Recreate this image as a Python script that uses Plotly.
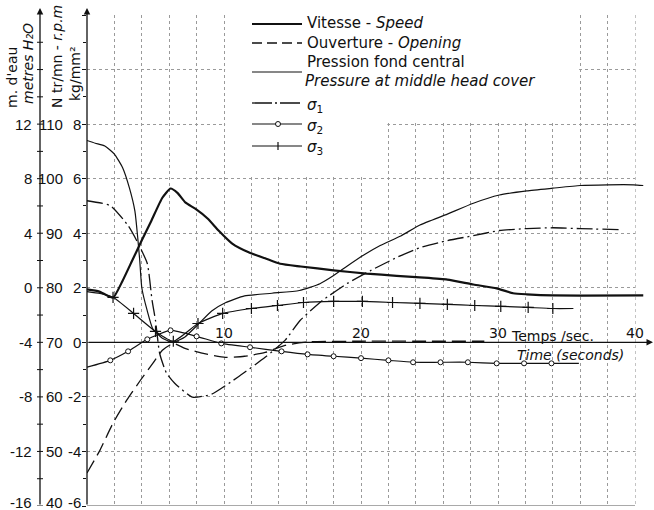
import plotly.graph_objects as go

# ---------------- data ----------------
# Speed  (N, tr/mn - r.p.m)
speed_t = [0, 0.9, 1.9, 2.6, 3.3, 4.0, 4.7, 5.5, 6.1, 6.6, 7.2, 7.9, 8.8, 9.6, 10.6, 11.8, 13.0,
           14.1, 15.6, 18.0, 20.4, 22.6, 24.3, 26.3, 28.2, 29.9, 31.1, 32.1, 34.0, 40.6]
speed_rpm = [79.7, 79.3, 78.2, 81.3, 85.0, 88.7, 92.3, 96.5, 98.2, 97.4, 95.6, 94.5, 92.7, 90.5,
             88.1, 86.5, 85.4, 84.4, 83.9, 83.2, 82.6, 82.2, 81.9, 81.5, 80.6, 79.9, 79.0, 78.8,
             78.6, 78.6]

# Opening (in units of the kg/mm2 grid)
open_t = [0, 0.95, 1.9, 2.9, 3.9, 4.8, 5.5, 6.3, 7.15, 8.4, 10.1, 11.5, 13.0, 14.45, 16.3, 20, 25, 29]
open_v = [-4.79, -3.95, -2.96, -2.12, -1.39, -0.77, -0.29, -0.04, -0.22, -0.40, -0.55, -0.51,
          -0.37, -0.11, 0.02, 0.04, 0.04, 0.04]

# Pressure at middle head cover (m d'eau)
pres_t = [0, 0.6, 1.3, 2.0, 2.6, 3.1, 3.5, 3.7, 3.85, 4.0, 4.4, 4.8, 5.5, 6.3, 7.15, 8.0, 9.1,
          10.1, 11.5, 13.5, 15.5, 17.0, 18.0, 19.0, 20.2, 21.4, 22.9, 24.3, 26.3, 28.2, 30.1,
          32.1, 34.0, 36.0, 38.0, 39.9, 40.6]
pres_m = [10.8, 10.6, 10.4, 9.8, 8.8, 7.3, 5.6, 3.7, 2.0, 0.0, -1.7, -3.0, -3.7, -4.0, -3.6,
          -2.8, -1.7, -1.1, -0.6, -0.4, -0.2, 0.3, 0.9, 1.6, 2.4, 3.1, 3.8, 4.6, 5.4, 6.2, 6.8,
          7.1, 7.3, 7.5, 7.55, 7.55, 7.5]

# Stresses (kg/mm2)
s1_t = [0, 1.7, 3.0, 3.7, 4.4, 4.75, 5.0, 5.3, 5.8, 6.4, 7.7, 9.1, 11.0, 13.0, 14.45, 15.55,
        17.2, 19.0, 20.7, 22.6, 24.3, 26.3, 28.2, 30.1, 32.1, 34.0, 36.0, 38.8]
s1_v = [5.19, 5.01, 4.28, 3.66, 2.89, 1.54, 0.80, -0.40, -1.13, -1.50, -2.01, -1.90, -1.28,
        -0.55, 0.07, 0.80, 1.54, 2.16, 2.63, 3.11, 3.47, 3.73, 3.91, 4.10, 4.17, 4.20, 4.17, 4.13]

s2_t = [0, 1.7, 3.0, 4.4, 6.1, 8.0, 9.8, 11.9, 14.2, 16.1, 18.0, 20.0, 22.0, 23.8, 25.8, 27.8,
        29.9, 31.9, 33.9, 35.9]
s2_v = [-0.91, -0.66, -0.33, 0.11, 0.44, 0.22, -0.04, -0.18, -0.33, -0.44, -0.51, -0.58, -0.66,
        -0.73, -0.73, -0.73, -0.77, -0.77, -0.77, -0.77]
s2_mark = [0, 1, 1, 1, 1, 1, 1, 1, 1, 1, 1, 1, 1, 1, 1, 1, 1, 1, 1, 0]

s3_t = [0, 0.95, 1.9, 3.4, 5.0, 6.3, 8.1, 9.9, 12.0, 13.9, 15.8, 18.0, 20.1, 22.3, 24.3, 26.3,
        28.3, 30.2, 32.2, 34.0, 35.5]
s3_v = [1.86, 1.79, 1.65, 1.06, 0.40, 0.04, 0.69, 1.06, 1.24, 1.35, 1.46, 1.50, 1.50, 1.46,
        1.43, 1.39, 1.35, 1.32, 1.28, 1.24, 1.24]
s3_mark = [0, 0, 1, 1, 1, 1, 1, 1, 1, 1, 1, 1, 1, 1, 1, 1, 1, 1, 1, 1, 0]

# tick labels
m_ticks = [12, 8, 4, 0, -4, -8, -12, -16]
n_ticks = [110, 100, 90, 80, 70, 60, 50, 40]
kg_ticks = [8, 6, 4, 2, 0, -2, -4, -6]
t_labels = [10, 20, 30, 40]

# ---------------- layout helpers ----------------
W, H = 654, 510
ML, MR, MT, MB = 87, 8, 15, 4
PW, PH = W - ML - MR, H - MT - MB


def px(x):
    return (x - ML) / PW


def py(y):
    return (H - MB - y) / PH


INK = "#111111"
FONT = "DejaVu Sans"
TFONT = "Liberation Sans"
GRID = "#9a9a9a"

fig = go.Figure()

spl = dict(shape="spline", smoothing=0.5)

fig.add_trace(go.Scatter(x=speed_t, y=speed_rpm, yaxis="y2", mode="lines",
                         line=dict(color=INK, width=2.2, **spl), name="Vitesse - Speed"))
fig.add_trace(go.Scatter(x=open_t, y=open_v, yaxis="y", mode="lines",
                         line=dict(color=INK, width=1.3, dash="14px,6px", **spl),
                         name="Ouverture - Opening"))
fig.add_trace(go.Scatter(x=pres_t, y=pres_m, yaxis="y3", mode="lines",
                         line=dict(color=INK, width=1.2, **spl),
                         name="Pression fond central"))
fig.add_trace(go.Scatter(x=s1_t, y=s1_v, yaxis="y", mode="lines",
                         line=dict(color=INK, width=1.3, dash="16px,4px,2px,4px", **spl),
                         name="σ1"))
fig.add_trace(go.Scatter(x=s2_t, y=s2_v, yaxis="y", mode="lines",
                         line=dict(color=INK, width=1.2, **spl), name="σ2"))
fig.add_trace(go.Scatter(x=[t for t, k in zip(s2_t, s2_mark) if k],
                         y=[v for v, k in zip(s2_v, s2_mark) if k], yaxis="y", mode="markers",
                         marker=dict(symbol="circle", size=5, color="white",
                                     line=dict(color=INK, width=1)), showlegend=False))
fig.add_trace(go.Scatter(x=s3_t, y=s3_v, yaxis="y", mode="lines",
                         line=dict(color=INK, width=1.2, **spl), name="σ3"))
fig.add_trace(go.Scatter(x=[t for t, k in zip(s3_t, s3_mark) if k],
                         y=[v for v, k in zip(s3_v, s3_mark) if k], yaxis="y", mode="markers",
                         marker=dict(symbol="cross-thin", size=8,
                                     line=dict(color=INK, width=1.2)), showlegend=False))

shapes = []
# masks hiding the grid behind the legend and beyond t = 40
for x0, x1, y0, y1 in [(10.08, 35.92, 8.06, 12.3), (10.08, 21.92, 6.06, 8.1), (40.04, 41, -6.3, 12.3)]:
    shapes.append(dict(type="rect", xref="x", yref="y", x0=x0, x1=x1, y0=y0, y1=y1,
                       fillcolor="white", line=dict(width=0), layer="between"))
# bottom border of the grid
shapes.append(dict(type="line", xref="x", yref="y", x0=0, x1=40, y0=-6, y1=-6,
                   line=dict(color="#555", width=1.2), layer="between"))
# small ticks on the m d'eau axis
for m in range(-16, 20, 2):
    shapes.append(dict(type="line", xref="paper", yref="y3", x0=px(37), x1=px(43), y0=m, y1=m,
                       line=dict(color=INK, width=1)))

annotations = []


def arrow(xt, yt, ax, ay, xref="paper", yref="paper"):
    annotations.append(dict(x=xt, y=yt, xref=xref, yref=yref, ax=ax, ay=ay, axref="pixel",
                            ayref="pixel", text="", showarrow=True, arrowhead=2, arrowsize=1,
                            arrowwidth=1.3, arrowcolor=INK, standoff=0, startstandoff=0))


arrow(px(40), py(8), 0, 498)
arrow(px(87), py(8), 0, 498)
arrow(px(653), 0, -566, 0, yref="y")


def txt(text, x, y, size=14, xanchor="center", yanchor="middle", xref="paper", yref="paper",
        angle=0, family=FONT, yshift=0):
    annotations.append(dict(text=text, x=x, y=y, xref=xref, yref=yref, xanchor=xanchor,
                            yanchor=yanchor, showarrow=False, textangle=angle, yshift=yshift,
                            font=dict(family=family, size=size, color=INK)))


# axis titles
txt("m. d'eau", px(12), py(78), angle=-90)
txt("<i>metres H₂O</i>", px(28), py(64), angle=-90)
txt("N tr/mn - <i>r.p.m</i>", px(57), py(57), angle=-90)
txt("kg/mm²", px(75), py(74), angle=-90)

# tick labels (the lowest row is lifted a little so it stays inside the picture)
for v in m_ticks:
    txt(str(v), px(34), v, size=15, xanchor="right", yref="y3", family=TFONT,
        yshift=4 if v == m_ticks[-1] else 0)
for v in n_ticks:
    txt(str(v), px(65), v, size=15, xanchor="right", yref="y2", family=TFONT,
        yshift=4 if v == n_ticks[-1] else 0)
for v in kg_ticks:
    txt(str(v), px(83), v, size=15, xanchor="right", yref="y", family=TFONT,
        yshift=4 if v == kg_ticks[-1] else 0)
for v in t_labels:
    txt(str(v), v, 0.33, size=14, xref="x", yref="y", family=FONT)
txt("Temps /sec.", px(509), 0.25, size=14, xanchor="left", yref="y")
txt("<i>Time (seconds)</i>", px(570), -0.45, size=14, yref="y")

# legend (drawn by hand)
LX0, LX1, LTX = 252, 302, 305
leg = [
    (24, dict(width=2.2), "Vitesse - <i>Speed</i>", 23),
    (43, dict(width=1.3, dash="10px,5px"), "Ouverture - <i>Opening</i>", 43),
    (72, dict(width=1.2), None, None),
    (103, dict(width=1.3, dash="20px,3px,2px,3px"), "<i>σ</i><sub>1</sub>", 106),
    (124, dict(width=1.2), "<i>σ</i><sub>2</sub>", 127),
    (146, dict(width=1.2), "<i>σ</i><sub>3</sub>", 148),
]
for ly, ln, label, ty in leg:
    shapes.append(dict(type="line", xref="paper", yref="paper", x0=px(LX0), x1=px(LX1),
                       y0=py(ly), y1=py(ly), line=dict(color=INK, **ln)))
    if label:
        txt(label, px(LTX), py(ty), size=15, xanchor="left")
txt("Pression fond central", px(LTX), py(62), size=15, xanchor="left")
txt("<i>Pressure at middle head cover</i>", px(LTX - 2), py(81), size=15, xanchor="left")
# legend markers
shapes.append(dict(type="circle", xref="paper", yref="paper", x0=px(275.5), x1=px(280.5),
                   y0=py(126.5), y1=py(121.5), fillcolor="white", line=dict(color=INK, width=1)))
shapes.append(dict(type="line", xref="paper", yref="paper", x0=px(278), x1=px(278),
                   y0=py(142), y1=py(150), line=dict(color=INK, width=1.2)))

fig.update_layout(
    width=W, height=H, margin=dict(l=ML, r=MR, t=MT, b=MB),
    paper_bgcolor="white", plot_bgcolor="white", showlegend=False,
    xaxis=dict(range=[0, 40.8], tick0=0, dtick=2, showgrid=True, gridcolor=GRID,
               griddash="dot", gridwidth=1, zeroline=False, showticklabels=False, ticks="",
               showline=False, fixedrange=True),
    yaxis=dict(range=[-6, 12], tick0=0, dtick=2, showgrid=True, gridcolor=GRID,
               griddash="dot", gridwidth=1, zeroline=False, showticklabels=False,
               ticks="outside", ticklen=4, tickcolor=INK, showline=False,
               minor=dict(dtick=1, ticks="outside", ticklen=3, tickcolor=INK, showgrid=False)),
    yaxis2=dict(range=[40, 130], overlaying="y", visible=False),
    yaxis3=dict(range=[-16, 20], overlaying="y", visible=False),
    shapes=shapes, annotations=annotations,
)

fig.write_html("out.html")
